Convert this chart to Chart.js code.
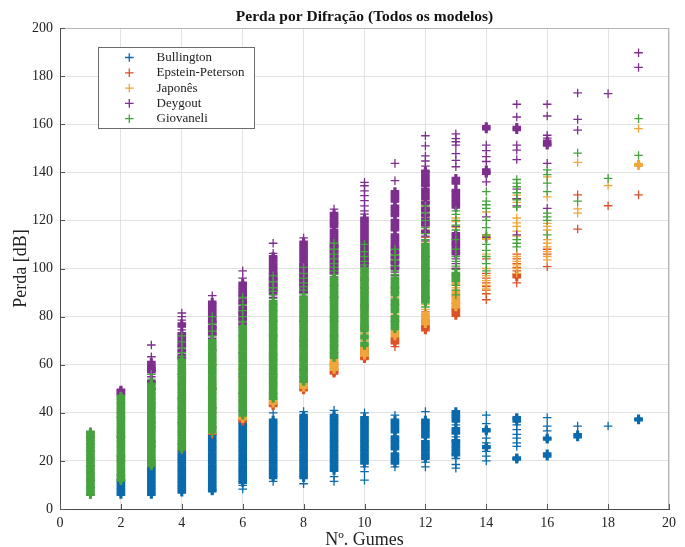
<!DOCTYPE html>
<html>
<head>
<meta charset="utf-8">
<script src="https://cdn.jsdelivr.net/npm/chart.js@4.4.0/dist/chart.umd.min.js"></script>
<style>
    html, body { margin: 0; padding: 0; background: #fff; }
</style>
</head>
<body>
<canvas id="chart-canvas" width="685" height="547"></canvas>
<script>
// Perda por difração x número de gumes

const gumes = [1, 2, 3, 4, 5, 6, 7, 8, 9, 10, 11, 12, 13, 14, 15, 16, 17, 18, 19];

const bullington = [
    [6, 9, 12, 15, 18, 21, 24, 27, 30, 32],
    [6, 7, 8, 9, 10, 11, 12],
    [6, 7, 8, 9, 10, 11, 12, 13, 14, 15, 16, 17, 18],
    [7, 8, 9, 10, 11, 12, 13, 14, 15, 16, 17, 18, 19, 20, 21, 22, 23, 24],
    [7.5, 8, 9, 10, 11, 12, 13, 14, 15, 16, 17, 18, 19, 20, 21, 22, 23, 24, 25, 26, 27, 28, 29, 30, 31],
    [8.3, 9.8, 11, 12, 13, 14, 15, 16, 17, 18, 19, 20, 21, 22, 23, 24, 25, 26, 27, 28, 29, 30, 31, 32, 33, 34, 35, 36],
    [11.5, 13, 14, 15, 16, 17, 18, 19, 20, 21, 22, 23, 24, 25, 26, 27, 28, 29, 30, 31, 32, 33, 34, 35, 36, 37, 40],
    [10.5, 13, 14, 15, 16, 17, 18, 19, 20, 21, 22, 23, 24, 25, 26, 27, 28, 29, 30, 31, 32, 33, 34, 35, 36, 37, 38, 39, 40.5],
    [11.5, 13.5, 16, 17, 18, 19, 20, 21, 22, 23, 24, 25, 26, 27, 28, 29, 30, 31, 32, 33, 34, 35, 36, 37, 38, 39, 41],
    [12, 15.5, 17.5, 19, 20, 21, 22, 23, 24, 25, 26, 27, 28, 29, 30, 31, 32, 33, 34, 35, 36, 37, 38, 40],
    [17.5, 19, 20, 21, 22, 23, 25, 26, 27, 28, 29, 30, 32, 33, 34, 35, 36, 37, 39],
    [17.5, 19.5, 21, 22, 23, 24, 25, 26, 27, 28, 30, 31, 32, 33, 34, 35, 36, 37, 40.5],
    [17, 18.5, 21, 22.5, 23, 24, 25, 26, 27, 28, 28.5, 30, 31.5, 32.5, 33.5, 35, 36.5, 37.5, 38.5, 39.5, 40.5],
    [20, 22, 24, 25.5, 26, 27.5, 29.5, 32.5, 33, 35.5, 39],
    [20.7, 21, 21.3, 26, 27.5, 29.5, 31, 33, 35, 36.5, 37.5, 38],
    [22, 23, 29, 29.5, 32.5, 34.5, 38],
    [30, 31, 34.5],
    [34.5],
    [37, 37.5]
];

const epsteinPeterson = [
    [6, 12, 18, 24, 30, 32],
    [12, 20, 30, 40],
    [19, 26, 34, 42, 50],
    [24.5, 32, 42, 52],
    [31, 40, 50, 60],
    [36.5, 37, 45, 55, 65],
    [43, 43.5, 44.5, 52, 62, 72],
    [49.5, 50, 51, 58, 68, 78],
    [56.5, 57, 58, 59.5, 60.5, 68, 78, 88],
    [62.5, 63, 64.5, 65.5, 66.5, 75, 85, 95],
    [67.5, 69, 70, 71, 80, 90],
    [74.5, 75.5, 76, 77.5, 78.5, 82, 95, 105, 113, 119, 128],
    [80.5, 81.5, 82.5, 83.5, 85.5, 88.5, 100, 110],
    [87, 89.5, 91, 92.5, 94, 96, 98, 104],
    [94, 96.5, 97.5, 99, 100.5, 102, 104, 106],
    [100.8, 106, 108],
    [116.4, 130.6],
    [126.1],
    [130.6, 143]
];

const japones = [
    [6, 12, 18, 24, 30, 32],
    [12, 22, 32, 42],
    [18.5, 28, 38, 48],
    [25, 35, 45, 55],
    [31.5, 42, 52, 62],
    [37.5, 38, 48, 58, 68],
    [44, 45, 46, 55, 65, 75],
    [50.5, 51.5, 52.5, 60, 70, 80],
    [58, 59, 60, 61, 62, 70, 80, 90],
    [64, 65, 66, 67, 70, 73, 80, 90, 98],
    [72, 73, 74, 81, 88, 104, 106],
    [77, 78, 79, 80, 81, 83, 85, 111, 116, 121, 125.5],
    [84, 85, 86, 87, 88, 89.5, 90.5, 92, 93.5, 94.5, 96.5, 117, 119.5, 121],
    [91.5, 93, 95, 97, 100, 106, 112.5, 113.5, 123.5],
    [98, 100, 101.5, 103, 105, 113.5, 115.5, 117.5, 119, 121, 127.5, 129, 130.5],
    [103.6, 105, 107, 109, 110.5, 112, 116, 117.5, 118.8, 129.8, 138.1],
    [123, 124.8, 144.1],
    [134.5],
    [142.8, 143.3, 158.2]
];

const deygout = [
    [6, 12, 18, 24, 30, 32],
    [14, 22, 30, 38, 44, 47.5, 48, 49, 49.5],
    [20, 28, 36, 44, 50, 52.5, 53, 55, 57, 57.5, 58, 58.5, 59, 60, 61, 63.3, 68.2],
    [27, 36, 46, 56, 62.5, 63, 64, 65.5, 66, 67.5, 68, 69, 70, 71, 72, 73, 74.5, 76, 77, 78.5, 80, 81.5],
    [34, 42, 50, 60, 66, 71, 72.5, 73, 74, 75, 75.5, 76, 77.5, 78, 79, 80, 81, 82, 83, 84, 85, 86, 88.7],
    [41, 48, 56, 65, 72, 76.5, 77, 78.5, 79, 80, 81, 81.5, 82, 83, 84, 85.5, 86, 87, 88.5, 89, 90, 91, 92, 93, 94, 96, 99],
    [48, 56, 64, 72, 78, 82.5, 85, 86.5, 88, 89.5, 90.5, 91, 91.5, 92.5, 93, 93.5, 94, 95, 95.5, 96, 96.5, 97.5, 98, 99, 100, 101, 102, 103, 104, 105, 106.3, 110.5],
    [55, 62, 70, 78, 82, 86.5, 88.5, 90, 90.5, 91.5, 92.5, 93, 93.5, 94.5, 95, 95.5, 96.5, 97, 97.5, 98.5, 99, 99.5, 100, 101, 101.5, 102, 103, 104, 105, 106, 107, 108, 109, 110, 111, 112.7],
    [65, 72, 80, 88, 93, 96.5, 98, 98.5, 99.5, 100, 101, 101.5, 102.5, 103, 103.5, 104.5, 105, 105.5, 106.5, 107, 107.5, 108.5, 109, 109.5, 110, 111, 112, 113, 114, 115, 116, 117.5, 118.5, 119, 120, 121, 122, 123, 124.7],
    [76, 84, 92, 96, 101, 102, 102.5, 103.5, 104, 105, 106, 107, 108, 109, 110, 111, 112, 113, 114, 115, 116, 117, 118, 119, 120, 121, 122.6, 124, 126, 128.2, 130.3, 132.3, 134.4, 135.8],
    [78, 85, 92, 97, 98.5, 100, 100.5, 102, 102.5, 103, 104.5, 105, 106.5, 107, 108.5, 109, 110, 111, 112, 113, 114, 116, 117, 118, 119, 120, 122, 123, 124, 125, 126, 128, 129, 130, 131, 132, 136.5, 143.7],
    [88, 95, 100, 105, 111.5, 113.5, 115, 115.5, 118, 118.5, 119.5, 120.5, 122, 122.5, 124, 124.5, 125, 127, 127.5, 129, 130, 131, 132, 133, 134.5, 135, 136, 137, 138, 139, 140, 140.5, 142.6, 144.7, 146.8, 151, 155.2],
    [97.5, 100, 102, 104, 106, 107, 108.5, 109.5, 110.5, 111.5, 112.5, 113.5, 114.5, 117.5, 125.5, 126.5, 127.5, 128.5, 129.5, 130.5, 131.5, 132.5, 135.5, 136.5, 137.5, 142.3, 145, 147.8, 151.3, 152.7, 154, 156],
    [113, 121.5, 136, 139.5, 140, 141, 144.5, 146.5, 149, 151.3, 158, 159],
    [114, 126, 129, 133, 145.3, 149.2, 151.3, 157.7, 158.7, 163, 168.3],
    [125, 143.7, 151.3, 152, 153, 154.2, 155.4, 163.4, 168.3],
    [157.5, 162, 173],
    [172.7],
    [183.6, 189.7]
];

const giovaneli = [
    [6, 7, 8, 9, 10, 11, 12, 13, 14, 15, 16, 17, 18, 19, 20, 21, 22, 23, 24, 25, 26, 27, 28, 29, 30, 31, 32],
    [12, 13, 14, 15, 16, 17, 18, 19, 20, 21, 22, 23, 24, 25, 26, 27, 28, 29, 30, 31, 32, 33, 34, 35, 36, 37, 38, 39, 40, 41, 42, 43, 44, 45, 46, 47],
    [18, 19, 20, 21, 22, 23, 24, 25, 26, 27, 28, 29, 30, 31, 32, 33, 34, 35, 36, 37, 38, 39, 40, 41, 42, 43, 44, 45, 46, 47, 48, 49, 50, 51, 52, 54, 56],
    [25, 26, 27, 28, 29, 30, 31, 32, 33, 34, 35, 36, 37, 38, 39, 40, 41, 42, 43, 44, 45, 46, 47, 48, 49, 50, 51, 52, 53, 54, 55, 56, 57, 58, 59, 60, 61, 62, 63.5, 65, 67, 69.5, 72],
    [32, 33, 34, 35, 36, 37, 38, 39, 40, 41, 42, 43, 44, 45, 46, 47, 48, 49, 50, 51, 52, 53, 54, 55, 56, 57, 58, 59, 60, 61, 62, 63, 64, 65, 66, 67, 68, 69, 70, 72, 74, 77, 80],
    [39, 40, 41, 42, 43, 44, 45, 46, 47, 48, 49, 50, 51, 52, 53, 54, 55, 56, 57, 58, 59, 60, 61, 62, 63, 64, 65, 66, 67, 68, 69, 70, 71, 72, 73, 74, 75, 76, 78, 80, 82.5, 85, 88],
    [46, 47, 48, 49, 50, 51, 52, 53, 54, 55, 56, 57, 58, 59, 60, 61, 62, 63, 64, 65, 66, 67, 68, 69, 70, 71, 72, 73, 74, 75, 76, 77, 78, 79, 80, 81, 82, 83, 84, 85, 86, 87.5, 89, 90.5, 92, 94.5, 97],
    [53, 54, 55, 56, 57, 58, 59, 60, 61, 62, 63, 64, 65, 66, 67, 68, 69, 70, 71, 72, 73, 74, 75, 76, 77, 78, 79, 80, 81, 82, 83, 84, 85, 86, 87, 88, 89.5, 91, 92.5, 94, 96, 98, 100.5],
    [63, 64, 65, 66, 67, 68, 69, 70, 71, 72, 73, 74, 75, 76, 77, 78, 79, 80, 81, 82, 83, 84, 85, 86, 87, 88, 89, 90, 91, 92, 93, 94, 95, 96, 97.5, 99, 100.5, 102, 104, 106, 108, 110.5],
    [68, 69, 71, 72, 74, 75, 76, 77, 78, 79, 80, 81, 82, 83, 84, 85, 86, 87, 88, 89, 90, 91, 92, 93, 94, 95, 96, 97, 98, 99, 100, 101.5, 103, 105, 107, 110],
    [75, 76, 77, 78, 79, 80, 82, 83, 84, 85, 86, 87, 89, 90, 91, 92, 93, 94, 95, 96, 97.5, 99, 101, 103.5, 105.5, 108],
    [84, 86, 87, 88, 89, 90, 91, 92, 93, 94, 95, 96, 97, 98, 99, 100, 101, 102, 103, 104, 105, 106, 107, 108, 109, 110, 112, 114.5, 117, 120, 123, 126],
    [89, 91, 93, 95, 96, 97, 98, 99.5, 101, 103, 105, 108, 112, 116, 118, 120, 122.5, 124],
    [99, 102, 105, 107.5, 110, 114, 117, 120, 125, 126.5, 128, 132],
    [109, 110.5, 112, 125.5, 128.5, 131.5, 134, 135.5, 137],
    [114, 120, 121.5, 123, 132, 135.5, 139, 141],
    [128, 148],
    [137.5],
    [147, 162.3]
];

const seriesNames = ['Bullington', 'Epstein-Peterson', 'Japonês', 'Deygout', 'Giovaneli'];
const seriesData = [bullington, epsteinPeterson, japones, deygout, giovaneli];
const seriesColors = ['#0b6aab', '#dd5128', '#f0a63a', '#7e2f8e', '#46a23e'];

const serif = 'Liberation Serif, Times New Roman, serif';

// points packed close together in one column are drawn thicker so the band looks solid
function toPoints(columns) {
    const points = [];
    columns.forEach((values, i) => {
        const sorted = values.slice().sort((a, b) => a - b);
        sorted.forEach((v, j) => {
            const dense = (j > 0 && v - sorted[j - 1] <= 1.05) ||
                (j < sorted.length - 1 && sorted[j + 1] - v <= 1.05);
            points.push({ x: gumes[i], y: v, dense: dense });
        });
    });
    return points;
}

const legendBox = {
    id: 'legendBox',
    afterDraw(chart) {
        const ctx = chart.ctx;
        ctx.save();
        ctx.fillStyle = '#ffffff';
        ctx.fillRect(98.5, 47.5, 156, 81);
        ctx.strokeStyle = '#6b6b6b';
        ctx.lineWidth = 1;
        ctx.strokeRect(98.5, 47.5, 156, 81);
        ctx.font = '13px ' + serif;
        ctx.textBaseline = 'middle';
        seriesNames.forEach((name, k) => {
            const y = 57.5 + k * 15.3;
            ctx.strokeStyle = seriesColors[k];
            ctx.lineWidth = 1.3;
            ctx.beginPath();
            ctx.moveTo(125, y);
            ctx.lineTo(133.6, y);
            ctx.moveTo(129.3, y - 4.3);
            ctx.lineTo(129.3, y + 4.3);
            ctx.stroke();
            ctx.fillStyle = '#222';
            ctx.fillText(name, 156.5, y);
        });
        ctx.restore();
    }
};

const axesFrame = {
    id: 'axesFrame',
    afterDraw(chart) {
        const { ctx, chartArea } = chart;
        const xs = chart.scales.x;
        const ys = chart.scales.y;
        ctx.save();
        ctx.strokeStyle = '#b5b5b5';
        ctx.lineWidth = 1;
        ctx.beginPath();
        ctx.moveTo(chartArea.left, chartArea.top + 0.5);
        ctx.lineTo(chartArea.right, chartArea.top + 0.5);
        ctx.moveTo(chartArea.right - 0.5, chartArea.top);
        ctx.lineTo(chartArea.right - 0.5, chartArea.bottom);
        ctx.stroke();
        // marcas internas dos eixos
        ctx.strokeStyle = '#555';
        ctx.beginPath();
        xs.ticks.forEach(t => {
            const px = Math.round(xs.getPixelForValue(t.value)) + 0.5;
            ctx.moveTo(px, chartArea.bottom);
            ctx.lineTo(px, chartArea.bottom - 5);
        });
        ys.ticks.forEach(t => {
            const py = Math.round(ys.getPixelForValue(t.value)) + 0.5;
            ctx.moveTo(chartArea.left, py);
            ctx.lineTo(chartArea.left + 5, py);
        });
        ctx.stroke();
        ctx.restore();
    }
};

const chartCtx = document.getElementById('chart-canvas').getContext('2d');
const lossChart = new Chart(chartCtx, {
    type: 'scatter',
    data: {
        datasets: seriesData.map((columns, k) => ({
            label: seriesNames[k],
            data: toPoints(columns),
            pointStyle: 'cross',
            pointRadius: 4.3,
            pointHoverRadius: 4.3,
            borderColor: seriesColors[k],
            backgroundColor: seriesColors[k],
            pointBorderWidth: c => (c.raw && c.raw.dense ? 3.1 : 1.3),
            order: 5 - k
        }))
    },
    options: {
        responsive: false,
        animation: false,
        events: [],
        layout: { padding: { left: 0, right: 16, top: 0, bottom: 0 } },
        plugins: {
            legend: { display: false },
            tooltip: { enabled: false },
            title: {
                display: true,
                fullSize: false,
                text: 'Perda por Difração (Todos os modelos)',
                color: '#111',
                font: { family: serif, size: 15.5, weight: 'bold', lineHeight: 1.2 },
                padding: { top: 8, bottom: 1.4 }
            }
        },
        scales: {
            x: {
                type: 'linear',
                min: 0,
                max: 20,
                ticks: { stepSize: 2, padding: 6, color: '#222', font: { family: serif, size: 14 } },
                grid: { color: '#e2e2e2', drawTicks: false },
                border: { color: '#4a4a4a' },
                title: {
                    display: true,
                    text: 'Nº. Gumes',
                    color: '#222',
                    font: { family: serif, size: 18, lineHeight: 0.75 },
                    padding: { top: 0, bottom: 0 }
                },
                afterFit: s => { s.height = 38; }
            },
            y: {
                type: 'linear',
                min: 0,
                max: 200,
                ticks: { stepSize: 20, padding: 7, color: '#222', font: { family: serif, size: 14 } },
                grid: { color: '#e2e2e2', drawTicks: false },
                border: { color: '#4a4a4a' },
                title: {
                    display: true,
                    text: 'Perda [dB]',
                    color: '#222',
                    font: { family: serif, size: 18, lineHeight: 1 },
                    padding: { top: 12, bottom: 0 }
                },
                afterFit: s => { s.width = 60; }
            }
        }
    },
    plugins: [legendBox, axesFrame]
});
</script>
</body>
</html>
